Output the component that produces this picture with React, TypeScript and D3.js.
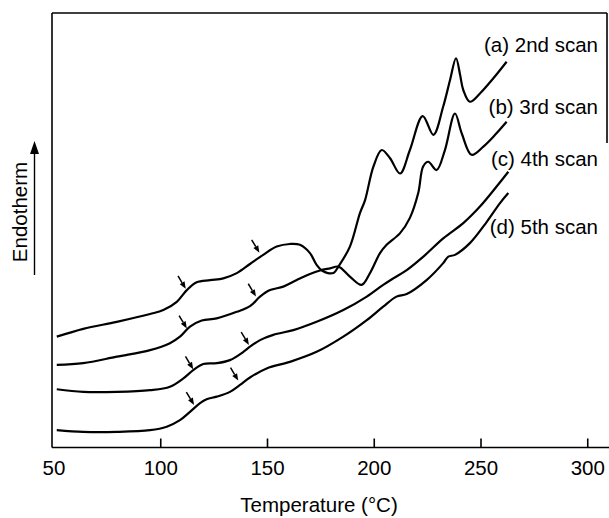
import React from "react";
import * as d3 from "d3";

// Temperature (°C) and endotherm signal (arbitrary units, 0-100)
const scanA: [number, number][] = [
  [51.3, 25.6], [63.7, 27.4], [79.4, 29.0], [95.0, 30.8], [101.2, 31.7], [107.5, 33.6],
  [112.2, 36.3], [116.8, 38.1], [123.1, 38.6], [129.3, 39.0], [135.6, 40.2], [141.8, 42.3],
  [148.0, 44.4], [154.3, 46.3], [160.5, 46.9], [165.2, 46.7], [169.9, 44.8], [173.0, 42.1],
  [175.5, 40.8], [178.3, 40.2], [181.1, 40.3], [183.2, 41.7], [188.6, 46.3], [193.3, 54.0],
  [195.7, 57.0], [199.6, 64.7], [203.5, 68.5], [207.4, 66.6], [212.1, 63.1], [216.7, 68.5],
  [222.7, 76.3], [227.7, 72.0], [232.3, 78.5], [235.5, 84.6], [238.3, 89.6], [240.2, 85.8],
  [241.7, 82.3], [244.8, 79.6], [249.5, 81.5], [255.8, 85.0], [262.0, 88.8],
];
const scanB: [number, number][] = [
  [51.3, 19.1], [63.7, 19.5], [79.4, 21.0], [95.0, 22.5], [104.3, 24.1], [109.0, 25.6],
  [113.7, 27.9], [119.2, 29.3], [126.2, 29.8], [135.6, 31.3], [141.8, 32.6], [146.5, 34.8],
  [151.2, 36.3], [157.4, 37.1], [163.7, 38.6], [169.9, 40.0], [174.6, 40.8], [179.3, 41.3],
  [183.2, 41.7], [188.6, 39.4], [194.1, 37.5], [198.0, 40.2], [202.7, 44.8], [205.8, 46.7],
  [212.1, 49.4], [216.7, 52.9], [220.6, 58.6], [222.9, 64.7], [225.3, 65.8], [229.2, 63.9],
  [233.1, 68.5], [237.8, 76.9], [241.0, 72.3], [245.6, 67.4], [251.1, 69.3], [256.6, 72.0],
  [262.0, 75.0],
];
const scanC: [number, number][] = [
  [51.3, 13.5], [63.7, 12.9], [79.4, 12.9], [95.0, 13.3], [104.3, 14.1], [110.6, 16.0],
  [115.2, 17.9], [119.9, 19.3], [126.2, 19.5], [132.4, 20.2], [138.7, 22.1], [141.8, 23.3],
  [146.5, 24.8], [152.7, 26.0], [162.1, 27.1], [173.0, 29.0], [185.5, 31.7], [196.5, 34.8],
  [204.2, 37.5], [208.9, 39.0], [215.2, 40.9], [223.0, 44.0], [232.3, 48.2], [241.7, 51.7],
  [249.5, 55.5], [257.3, 60.1], [262.8, 63.5],
];
const scanD: [number, number][] = [
  [51.3, 4.1], [63.7, 3.7], [79.4, 3.7], [95.0, 4.1], [102.8, 4.9], [109.0, 6.4],
  [113.7, 8.3], [118.4, 10.3], [121.5, 11.2], [126.2, 11.8], [132.4, 12.9], [137.1, 14.5],
  [141.8, 16.2], [149.6, 18.3], [160.5, 19.8], [173.0, 22.1], [185.5, 25.6], [196.5, 29.4],
  [204.2, 32.5], [210.4, 34.8], [215.2, 35.4], [224.5, 38.6], [232.3, 42.5], [234.7, 44.0],
  [237.8, 44.4], [244.8, 47.1], [252.7, 52.0], [258.9, 56.3], [262.8, 58.6],
];
const series = [scanA, scanB, scanC, scanD];
const seriesLabels = ["(a) 2nd scan", "(b) 3rd scan", "(c) 4th scan", "(d) 5th scan"];
const labelY = [91.0, 76.8, 64.8, 49.2];

// transition markers (arrow tips) [temperature, signal]
const arrowTips: [number, number][] = [
  [111.7, 36.6], [146.2, 44.9],
  [112.2, 27.5], [144.6, 34.8],
  [115.2, 18.1], [141.3, 23.7],
  [115.6, 9.9], [136.3, 15.5],
];

const xTicks = [50, 100, 150, 200, 250, 300];
const xTitle = "Temperature (\u00b0C)";
const yTitle = "Endotherm";

const W = 609, H = 518;
const FONT = "'Liberation Sans', Arial, Helvetica, sans-serif";
const FS = 20.5;

export default function App() {
  const x = d3.scaleLinear().domain([50, 300]).range([54, 587.75]);
  const y = d3.scaleLinear().domain([0, 100]).range([448, 13]);
  const line = d3
    .line<[number, number]>()
    .x((d) => x(d[0]))
    .y((d) => y(d[1]))
    .curve(d3.curveCatmullRom.alpha(0.5));

  const left = 52, top = 13, bottom = 447.5, right = 607;

  return (
    <svg width={W} height={H} style={{ position: "absolute", left: 0, top: 0, background: "#fff" }}>
      <rect x={0} y={0} width={W} height={H} fill="#fff" />
      {/* frame */}
      <g stroke="#000" strokeWidth={1.6} fill="none">
        <line x1={left} y1={top} x2={right} y2={top} />
        <line x1={left} y1={top} x2={left} y2={bottom} />
        <line x1={left} y1={bottom} x2={609} y2={bottom} />
        <line x1={right} y1={top} x2={right} y2={143} />
        {xTicks.slice(1).map((t) => (
          <line key={t} x1={x(t)} x2={x(t)} y1={bottom} y2={bottom - 9} />
        ))}
      </g>
      {xTicks.map((t) => (
        <text key={t} x={x(t)} y={474.5} textAnchor="middle" fontFamily={FONT} fontSize={FS} fill="#000">
          {t}
        </text>
      ))}
      <text x={319} y={512} textAnchor="middle" fontFamily={FONT} fontSize={FS} fill="#000">
        {xTitle}
      </text>
      <text
        transform={`translate(27,212) rotate(-90)`}
        textAnchor="middle"
        fontFamily={FONT}
        fontSize={FS}
        fill="#000"
      >
        {yTitle}
      </text>
      <line x1={34.5} y1={275} x2={34.5} y2={152} stroke="#000" strokeWidth={1.4} />
      <path d="M34.5,141 L30,154 L39,154 Z" fill="#000" />
      {/* curves */}
      {series.map((s, i) => (
        <path key={i} d={line(s) || ""} fill="none" stroke="#000" strokeWidth={2.2} strokeLinejoin="round" />
      ))}
      {/* arrows */}
      {arrowTips.map((a, i) => {
        const tx = x(a[0]);
        const ty = y(a[1]);
        const ang = Math.atan2(12.5, 7.5);
        const len = 15;
        const sx = tx - len * Math.cos(ang);
        const sy = ty - len * Math.sin(ang);
        const hl = 7, hw = 2.8;
        const bx = tx - hl * Math.cos(ang);
        const by = ty - hl * Math.sin(ang);
        const px = -Math.sin(ang) * hw;
        const py = Math.cos(ang) * hw;
        return (
          <g key={i}>
            <line x1={sx} y1={sy} x2={bx} y2={by} stroke="#000" strokeWidth={1.5} />
            <path d={`M${tx},${ty} L${bx + px},${by + py} L${bx - px},${by - py} Z`} fill="#000" />
          </g>
        );
      })}
      {/* labels */}
      {seriesLabels.map((l, i) => (
        <text key={l} x={598} y={y(labelY[i])} textAnchor="end" fontFamily={FONT} fontSize={FS} fill="#000">
          {l}
        </text>
      ))}
    </svg>
  );
}
